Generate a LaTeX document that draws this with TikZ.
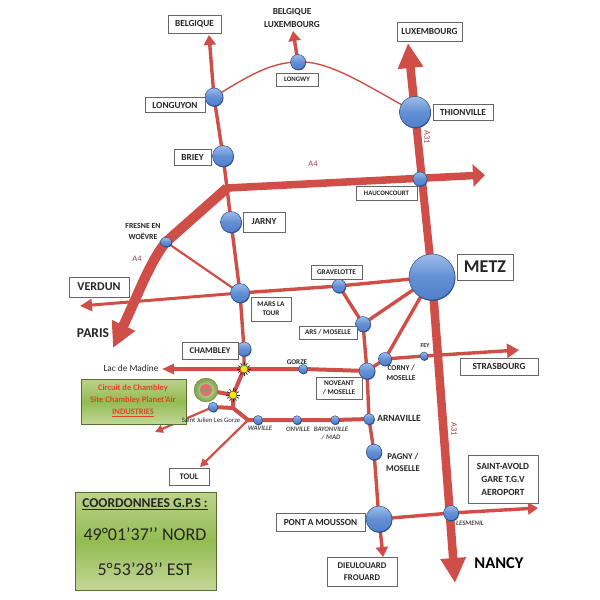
\documentclass[tikz,border=0pt]{standalone}
\usepackage{fontspec}
\setmainfont{Carlito}
\usetikzlibrary{arrows.meta,shadows,calc,shapes.geometric}
\pgfdeclarelayer{roads}
\pgfsetlayers{roads,main}
\definecolor{road}{HTML}{CF4F48}
\definecolor{roadtxt}{HTML}{A04A55}
\definecolor{ballA}{HTML}{9DBDEA}
\definecolor{ballB}{HTML}{4F80CC}
\definecolor{ballE}{HTML}{2F4F86}
\definecolor{greenA}{HTML}{BDD28C}
\definecolor{greenB}{HTML}{93BC52}
\definecolor{circtxt}{HTML}{E0452A}
\tikzset{
 x=1pt,y=-1pt,
 roadline/.style={draw=road,line cap=butt,line join=round},
 hair road/.style={roadline,line width=1.4pt},
 thin road/.style={roadline,line width=2.2pt},
 mid road/.style={roadline,line width=3.4pt},
 wide road/.style={roadline,line width=8.5pt},
 smalltip/.style={-{Triangle[length=10pt,width=12pt]}},
 midtip/.style={-{Triangle[length=12pt,width=14pt]}},
 lefttip/.style={-{Triangle[length=12pt,width=10pt]}},
 bigtip/.style={-{Triangle[length=25pt,width=24pt]}},
 ball/.style={circle,inner sep=0pt,minimum size=#1,draw=ballE,line width=.5pt,
   top color=ballA,bottom color=ballB,middle color=ballB!75!ballA,
   general shadow={shadow xshift=.5pt,shadow yshift=-.9pt,fill=ballE}},
 labelbox/.style={draw=black!60,fill=white,line width=.8pt,font=\bfseries\fontsize{9.3}{12}\selectfont,
   inner sep=0pt,align=center,text=black!85,minimum width=#1},
 labelbox/.default=0pt,
 smallbox/.style={labelbox=#1,font=\bfseries\fontsize{7.2}{9}\selectfont},
 smallbox/.default=0pt,
 plain/.style={font=\bfseries\fontsize{9.2}{13}\selectfont,align=center,text=black!85,inner sep=0pt},
 small/.style={font=\bfseries\fontsize{7.8}{11}\selectfont,align=center,text=black!85,inner sep=0pt},
 tinyit/.style={font=\bfseries\itshape\fontsize{6.8}{8}\selectfont,align=center,text=black!70,inner sep=0pt},
 roadname/.style={font=\fontsize{8.5}{10}\selectfont,text=roadtxt,inner sep=0pt},
 sunball/.style={circle,fill=yellow!95!black,draw=black!80,line width=.4pt,minimum size=8pt,inner sep=0pt},
 ray/.style={draw=black!85,line width=.7pt},
 greenbox/.style={draw=greenB!60!black,line width=.4pt,rectangle,
   top color=greenA,bottom color=greenA!90!white,middle color=greenB,inner sep=0pt,
   general shadow={shadow xshift=.5pt,shadow yshift=-1.2pt,fill=black!55!green!60!black}},
 circtext/.style={font=\bfseries\fontsize{8.4}{10}\selectfont,text=circtxt,inner sep=0pt},
 gpstext/.style={font=\fontsize{18}{21}\selectfont,text=black!85,inner sep=0pt}
}
\begin{document}
\begin{tikzpicture}
\useasboundingbox (0,0) rectangle (600,600);
\begin{pgfonlayer}{roads}
\fill[white] (0,0) rectangle (600,600);
\end{pgfonlayer}
% free ends
\coordinate (belE) at (209,35);
\coordinate (blxE) at (293,31);
\coordinate (luxE) at (408,43);
\coordinate (a4E) at (485,175);
\coordinate (nancyE) at (455,583);
\coordinate (parisE) at (113,348);
\coordinate (a4J) at (227,188);
\coordinate (verW) at (80,306);
\coordinate (madE) at (162,369);
\coordinate (straE) at (519,350);
\coordinate (saintE) at (538,508);
\coordinate (dieuE) at (383,557);
\coordinate (toulE) at (200,467);
\coordinate (jn1) at (233,408);
\coordinate (jn2) at (248,420);
\coordinate (swW) at (155,432);
% balls
\node[ball=46pt] (metz) at (432,277) {};
\node[ball=31pt] (thion) at (415,112) {};
\node[ball=14pt] (haucon) at (420,179) {};
\node[ball=15pt] (longwy) at (298,62) {};
\node[ball=18pt] (longuyon) at (214,97) {};
\node[ball=21pt] (briey) at (223,156) {};
\node[ball=21pt] (jarny) at (231,222) {};
\node[ball=9pt,ellipse,minimum width=12pt,minimum height=9pt] (fresne) at (166,242) {};
\node[ball=19pt] (marsla) at (240,293) {};
\node[ball=13.5pt] (grav) at (339,286) {};
\node[ball=15pt] (ars) at (363,324) {};
\node[ball=14pt] (chambley) at (244,349) {};
\node[ball=9pt] (gorze) at (303,369) {};
\node[ball=16pt] (novel) at (367,371) {};
\node[ball=13pt] (corny) at (385,359) {};
\node[ball=8pt] (fey) at (424,356) {};
\node[ball=11pt] (arna) at (369,419) {};
\node[ball=8.5pt] (bayon) at (335,420) {};
\node[ball=8.5pt] (onv) at (297,420) {};
\node[ball=9pt] (wav) at (258,420) {};
\node[ball=9.5pt] (saintj) at (213,407) {};
\node[ball=15.5pt] (pagny) at (374,452) {};
\node[ball=26pt] (pam) at (379,519) {};
\node[ball=15pt] (lesm) at (451,513) {};
\node[sunball] (sunA) at (244,369) {};
\node[sunball] (sunB) at (233,395) {};
\foreach \s in {sunA,sunB}
  \foreach \a in {0,30,...,330}
    \draw[ray] ($(\s)+(\a:4.2)$) -- ($(\s)+(\a:6.8)$);
% circuit disc
\node[circle,minimum size=24pt,inner sep=0pt,inner color=greenA!50!white,outer color=greenB!85!black,draw=greenB!70!black,line width=.3pt] (disc) at (206,390) {};
\node[circle,minimum size=12pt,inner sep=0pt,fill=road!80!white] (discin) at (206,390) {};
\draw[black!45,line width=.7pt] (discin.west) -- (discin.east);
% labels
\node[labelbox=53pt,minimum height=18pt] (lbel) at (194.5,24) {BELGIQUE};
\node[plain] (lblx) at (292,18.5) {BELGIQUE\\LUXEMBOURG};
\node[labelbox=65pt,minimum height=19pt] (llux) at (429.5,31.5) {LUXEMBOURG};
\node[smallbox=42pt,minimum height=13pt,font=\bfseries\fontsize{6.8}{8}\selectfont] (llgw) at (297,79.5) {LONGWY};
\node[labelbox=60pt,minimum height=15pt] (llgy) at (175,105) {LONGUYON};
\node[labelbox=60pt,minimum height=16pt] (lthi) at (463,112.5) {THIONVILLE};
\node[labelbox=37pt,minimum height=16pt] (lbri) at (192.5,157.5) {BRIEY};
\node[smallbox=61pt,minimum height=14pt,font=\bfseries\fontsize{6.8}{8}\selectfont] (lhau) at (386.5,193) {HAUCONCOURT};
\node[labelbox=42pt,minimum height=20pt] (ljar) at (264,222) {JARNY};
\node[small] (lfre) at (143,231) {FRESNE EN\\WOËVRE};
\node[labelbox=60pt,minimum height=20pt,font=\bfseries\fontsize{12}{14}\selectfont] (lver) at (99,287) {VERDUN};
\node[plain,font=\bfseries\fontsize{13.5}{15}\selectfont] (lpar) at (93,333) {PARIS};
\node[smallbox=40pt,minimum height=24pt] (lmar) at (271,309) {MARS LA\\TOUR};
\node[labelbox=56pt,minimum height=17pt,font=\bfseries\fontsize{8.8}{10}\selectfont] (lcha) at (210,350.5) {CHAMBLEY};
\node[smallbox=51pt,minimum height=14pt] (lgra) at (336.5,272) {GRAVELOTTE};
\node[smallbox=58pt,minimum height=13pt] (lars) at (328,332.5) {ARS / MOSELLE};
\node[labelbox=56pt,minimum height=26pt,font=\bfseries\fontsize{18}{21}\selectfont] (lmet) at (485,267) {METZ};
\node[smallbox=46pt,minimum height=22pt] (lnov) at (339,388) {NOVEANT\\/ MOSELLE};
\node[small,font=\bfseries\fontsize{7.5}{10}\selectfont] (lcor) at (401,373) {CORNY /\\MOSELLE};
\node[small,font=\bfseries\fontsize{6}{7}\selectfont] (lfey) at (425,346) {FEY};
\node[small,font=\bfseries\fontsize{7.2}{8}\selectfont] (lgor) at (297,362) {GORZE};
\node[labelbox=78pt,minimum height=17pt] (lstr) at (499,366.5) {STRASBOURG};
\node[plain,font=\bfseries\fontsize{9.5}{11}\selectfont] (larn) at (399,418) {ARNAVILLE};
\node[tinyit] (lwav) at (260,428) {WAVILLE};
\node[tinyit] (lonv) at (298,429) {ONVILLE};
\node[tinyit] (lbay) at (331,433) {BAYONVILLE\\/ MAD};
\node[inner sep=0pt,font=\fontsize{9.3}{11}\selectfont,text=black!85] (lmad) at (131,368) {Lac de Madine};
\node[plain,font=\bfseries\fontsize{8.8}{12}\selectfont] (lpag) at (403,462) {PAGNY /\\MOSELLE};
\node[labelbox=89pt,minimum height=18pt] (lpam) at (320.5,522) {PONT A MOUSSON};
\node[labelbox=70pt,minimum height=29pt,font=\bfseries\fontsize{8.8}{12}\selectfont] (ldie) at (362,571.5) {DIEULOUARD\\FROUARD};
\node[labelbox=70pt,minimum height=48pt,font=\bfseries\fontsize{9.4}{13}\selectfont] (lsav) at (503,479) {SAINT-AVOLD\\GARE T.G.V\\AEROPORT};
\node[tinyit] (lles) at (470,523) {LESMENIL};
\node[plain,font=\bfseries\fontsize{16.5}{18}\selectfont,text=black] (lnan) at (499,563) {NANCY};
\node[labelbox=40pt,minimum height=17pt,font=\bfseries\fontsize{8.5}{10}\selectfont] (ltou) at (189,476.5) {TOUL};
\node[roadname] (ra4a) at (313,164) {A4};
\node[roadname] (ra4b) at (137,259) {A4};
\node[roadname,rotate=-90] (ra31a) at (427,137) {A31};
\node[roadname,rotate=-90] (ra31b) at (454,429) {A31};
% green boxes
\node[greenbox,minimum width=105pt,minimum height=45pt] (circ) at (133.5,401.5) {};
\node[circtext] (ctA) at (133,388) {Circuit de Chambley};
\node[circtext] (ctB) at (133,400) {Site Chambley Planet'Air};
\node[circtext] (ctC) at (133,413) {\underline{INDUSTRIES}};
\node[inner sep=0pt,font=\fontsize{6.7}{8}\selectfont,text=black!85] (lsai) at (211,420) {Saint Julien Les Gorze};
\node[greenbox,minimum width=141pt,minimum height=98pt] (gps) at (145.5,541) {};
\node[inner sep=0pt,font=\bfseries\fontsize{13.5}{16}\selectfont,text=black!85] (gpA) at (145,504) {\underline{COORDONNEES G.P.S :}};
\node[gpstext] (gpB) at (145,534) {49°01’37’’ NORD};
\node[gpstext] (gpC) at (145,569) {5°53’28’’ EST};
% roads
\begin{pgfonlayer}{roads}
\draw[wide road,bigtip] (thion.center) -- (luxE);
\draw[wide road,line width=8pt] (thion.center) -- (metz.center);
\draw[wide road,bigtip] (metz.center) -- (nancyE);
\draw[wide road,line width=7.5pt,-{Triangle[length=12pt,width=22pt]}] (a4J) -- (a4E);
\draw[wide road,line width=10pt,bigtip] (a4J) -- (fresne.center) .. controls (150,262) and (140,290) .. (parisE);
\draw[mid road,line width=3pt,-{Triangle[length=12pt,width=12pt]}] (marsla.center) -- (verW);
\draw[mid road] (marsla.center) -- (grav.center) -- (metz.center);
\draw[mid road,smalltip] (a4J) -- (briey.center) -- (longuyon.center) -- (belE);
\draw[mid road] (a4J) -- (jarny.center) -- (marsla.center) -- (chambley.center) -- (sunA.center);
\draw[thin road] (fresne.center) -- (marsla.center);
\draw[hair road] (longuyon.center) .. controls (245,78) and (270,62) .. (longwy.center)
   .. controls (330,60) and (370,88) .. (thion.center);
\draw[mid road,smalltip] (longwy.center) -- (blxE);
\draw[mid road] (grav.center) -- (ars.center) -- (metz.center);
\draw[mid road] (ars.center) -- (novel.center) -- (arna.center) -- (pagny.center) -- (pam.center);
\draw[mid road] (corny.center) -- (metz.center);
\draw[mid road] (novel.center) -- (corny.center);
\draw[mid road,midtip] (corny.center) -- (fey.center) -- (straE);
\draw[mid road,line width=4pt,lefttip] (novel.center) -- (gorze.center) -- (sunA.center) -- (madE);
\draw[mid road,line width=4pt] (sunA.center) -- (sunB.center) -- (jn1) -- (jn2) -- (wav.center) -- (onv.center) -- (bayon.center) -- (arna.center);
\draw[mid road,line width=4pt] (sunB.center) -- (disc.center);
\draw[mid road,line width=4pt] (jn1) -- (saintj.center);
\draw[thin road,-{Triangle[length=8pt,width=8pt]}] (saintj.center) -- (swW);
\draw[thin road,-{Triangle[length=8pt,width=8pt]}] (jn2) -- (toulE);
\draw[mid road,smalltip] (pam.center) -- (dieuE);
\draw[mid road,smalltip] (pam.center) -- (lesm.center) -- (saintE);
\end{pgfonlayer}
\end{tikzpicture}
\end{document}
